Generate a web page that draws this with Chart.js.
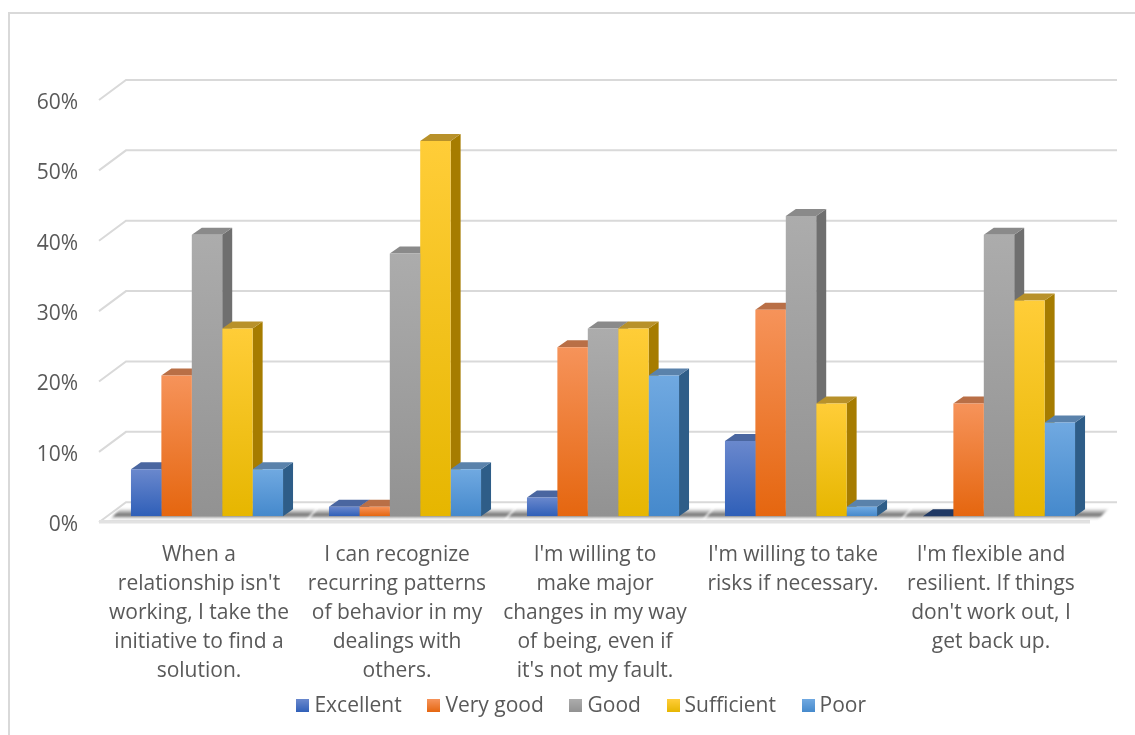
<!DOCTYPE html>
<html>
<head>
<meta charset="utf-8">
<script src="https://cdn.jsdelivr.net/npm/chart.js@4"></script>
<style>
  body { margin: 0; background: #fff; }
  #wrap { position: absolute; left: 0; top: 0; width: 1135px; height: 735px; }
</style>
</head>
<body>
<div id="wrap"><canvas id="bars3d"></canvas></div>
<script>
// data
var categories = [
  ["When a", "relationship isn't", "working, I take the", "initiative to find a", "solution."],
  ["I can recognize", "recurring patterns", "of behavior in my", "dealings with", "others."],
  ["I'm willing to", "make major", "changes in my way", "of being, even if", "it's not my fault."],
  ["I'm willing to take", "risks if necessary."],
  ["I'm flexible and", "resilient. If things", "don't work out, I", "get back up."]
];
var excellent = [6.67, 1.33, 2.67, 10.67, 0];
var veryGood = [20, 1.33, 24, 29.33, 16];
var good = [40, 37.33, 26.67, 42.67, 40];
var sufficient = [26.67, 53.33, 26.67, 16, 30.67];
var poor = [6.67, 6.67, 20, 1.33, 13.33];
var seriesNames = ["Excellent", "Very good", "Good", "Sufficient", "Poor"];
var seriesValues = [excellent, veryGood, good, sufficient, poor];

// face colours: gradient top, gradient bottom, side face, top face
var faces = [
  ["#6a88cd", "#2f5fb8", "#2c5391", "#4a66a0"],
  ["#f6935a", "#e5660f", "#a9551a", "#b96f46"],
  ["#acacac", "#929292", "#6f6f6f", "#8a8a8a"],
  ["#ffcd38", "#e6b600", "#a67c00", "#b8912a"],
  ["#70a9e1", "#4589cc", "#2e5d88", "#5a82ab"]
];
var navy = "#1f3864";
var gridColor = "#d9d9d9";
var textColor = "#595959";
var fontName = "'Open Sans'";

// how far the back wall and the bar depth sit from the front plane
var wallDx = 18, wallDy = 14;
var frontDx = 9, frontDy = 6;
var depthX = 10, depthY = 7;

function barGradient(c, top, bottom, colors) {
  var g = c.createLinearGradient(0, top, 0, bottom);
  g.addColorStop(0, colors[0]);
  g.addColorStop(1, colors[1]);
  return g;
}

function legendSwatch(colors) {
  var cv = document.createElement("canvas");
  cv.width = 13; cv.height = 13;
  var c = cv.getContext("2d");
  c.fillStyle = barGradient(c, 0, 13, colors);
  c.fillRect(0, 0, 13, 13);
  return cv;
}

function poly(c, pts, fill) {
  c.beginPath();
  c.moveTo(pts[0][0], pts[0][1]);
  for (var i = 1; i < pts.length; i++) c.lineTo(pts[i][0], pts[i][1]);
  c.closePath();
  c.fillStyle = fill;
  c.fill();
}

// walls, floor shadow and the side and top faces, all under the library's bar fronts
var walls3d = {
  id: "walls3d",
  afterLayout: function (chart) {
    // labels hang below the scale box, so do not let it clip them
    chart.scales.x.bottom = chart.height;
    chart.legend.left += 35;
    chart.legend.right += 35;
  },
  beforeDraw: function (chart) {
    var c = chart.ctx;
    c.save();
    c.fillStyle = gridColor;
    c.fillRect(8, 12, 1127, 2);
    c.fillRect(8, 12, 2, 723);
    c.restore();
  },
  beforeDatasetsDraw: function (chart) {
    var c = chart.ctx, area = chart.chartArea, y = chart.scales.y;
    c.save();
    c.strokeStyle = gridColor;
    c.lineWidth = 2;
    y.ticks.forEach(function (t) {
      var py = y.getPixelForValue(t.value);
      c.beginPath();
      c.moveTo(area.left - frontDx, py + frontDy);
      c.lineTo(area.left + wallDx, py - wallDy);
      c.lineTo(area.right + wallDx + 1, py - wallDy);
      c.stroke();
    });
    // floor front edge
    var base = y.getPixelForValue(0);
    c.lineWidth = 3.5;
    c.strokeStyle = "#e2e2e2";
    c.beginPath();
    c.moveTo(area.left - frontDx, base + frontDy - 0.5);
    c.lineTo(area.right - 8, base + frontDy - 0.5);
    c.stroke();
    // floor shadow, heavier around each group of bars
    var sh = c.createLinearGradient(0, base - 8, 0, base + 4);
    sh.addColorStop(0, "rgba(70,70,70,0)");
    sh.addColorStop(0.6, "rgba(70,70,70,0.8)");
    sh.addColorStop(0.72, "rgba(120,120,120,0.5)");
    sh.addColorStop(1, "rgba(210,210,210,0)");
    c.filter = "blur(1px)";
    var metaA = chart.getDatasetMeta(0).data, metaB = chart.getDatasetMeta(chart.data.datasets.length - 1).data;
    metaA.forEach(function (first, j) {
      var l = first.x - first.width / 2 - 22;
      var r = metaB[j].x + metaB[j].width / 2 + 34;
      poly(c, [[l, base + 4], [l + 12, base - 8], [r, base - 8], [r - 12, base + 4]], sh);
    });
    c.filter = "none";

    // left to right so each bar front hides its neighbour's side
    chart.data.datasets.forEach(function (ds, i) {
      chart.getDatasetMeta(i).data.forEach(function (bar, j) {
        var half = bar.width / 2, l = bar.x - half, r = bar.x + half;
        var top = bar.y, bottom = bar.base;
        poly(c, [[r, top], [r + depthX, top - depthY], [r + depthX, bottom - depthY], [r, bottom]], faces[i][2]);
        var topFill = ds.data[j] === 0 ? navy : faces[i][3];
        poly(c, [[l, top], [r, top], [r + depthX, top - depthY], [l + depthX, top - depthY]], topFill);
      });
    });
    c.restore();
  }
};

var datasets = seriesNames.map(function (name, i) {
  return {
    label: name,
    data: seriesValues[i],
    borderWidth: 0,
    backgroundColor: function (ctx) {
      var sc = ctx.chart.scales.y;
      var top = sc ? sc.getPixelForValue(ctx.raw) : NaN;
      var bottom = sc ? sc.getPixelForValue(0) : NaN;
      if (!isFinite(top) || !isFinite(bottom)) return faces[i][0];
      return barGradient(ctx.chart.ctx, top, bottom, faces[i]);
    }
  };
});

var ctx = document.getElementById("bars3d");
var chart = new Chart(ctx, {
  type: "bar",
  data: { labels: categories, datasets: datasets },
  plugins: [walls3d],
  options: {
    responsive: true,
    maintainAspectRatio: false,
    animation: false,
    categoryPercentage: 0.768,
    barPercentage: 1,
    layout: {
      autoPadding: false,
      padding: { left: 0, right: 37, top: 94, bottom: 8.6 }
    },
    scales: {
      x: {
        grid: { display: false, drawTicks: false },
        border: { display: false },
        afterFit: function (scale) { scale.height = 148; },
        ticks: {
          color: textColor,
          font: { family: fontName, size: 21, lineHeight: 1.381 },
          padding: 24,
          labelOffset: -8,
          maxRotation: 0,
          minRotation: 0,
          autoSkip: false
        }
      },
      y: {
        min: 0,
        max: 60,
        grid: { display: false, drawTicks: false },
        border: { display: false },
        afterFit: function (scale) { scale.width = 108; },
        ticks: {
          stepSize: 10,
          color: textColor,
          padding: 30,
          labelOffset: 9,
          font: { family: fontName, size: 21 },
          callback: function (v) { return v + "%"; }
        }
      }
    },
    plugins: {
      title: { display: false },
      tooltip: { enabled: false },
      legend: {
        position: "bottom",
        labels: {
          color: textColor,
          font: { family: fontName, size: 21 },
          padding: 31.2,
          usePointStyle: true,
          pointStyleWidth: 2,
          boxHeight: 13,
          generateLabels: function (ch) {
            var items = Chart.defaults.plugins.legend.labels.generateLabels(ch);
            items.forEach(function (it, i) { it.pointStyle = legendSwatch(faces[i]); });
            return items;
          }
        }
      }
    }
  }
});
</script>
</body>
</html>
